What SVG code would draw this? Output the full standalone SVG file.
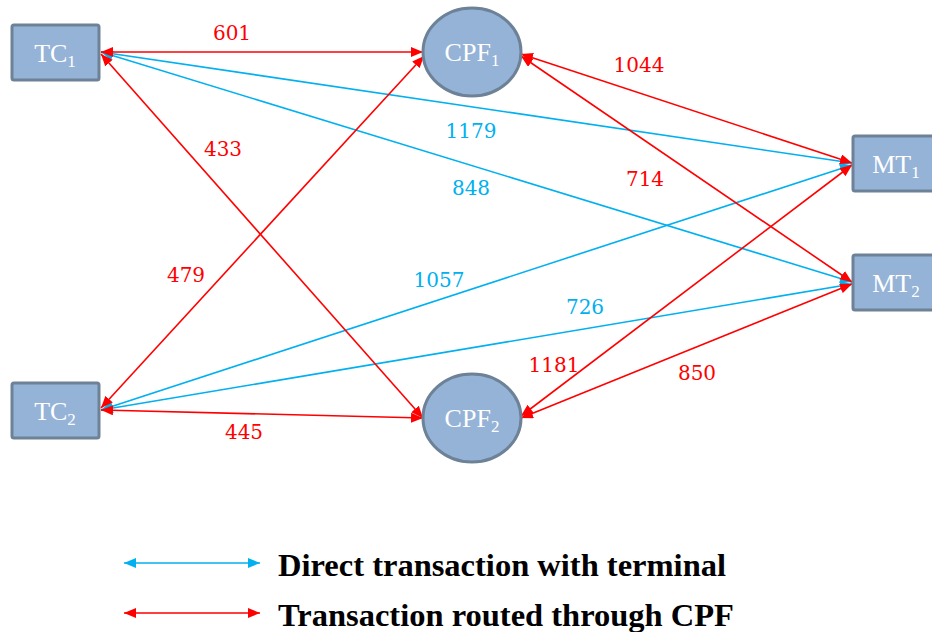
<svg xmlns="http://www.w3.org/2000/svg" width="932" height="632" viewBox="0 0 932 632">
<style>
.node{fill:#95B3D7;stroke:#6D8197;stroke-width:3}
.nl{font-family:"Liberation Serif",serif;font-size:26px;fill:#ffffff}
.sub{font-size:17px}
.r{stroke:#FF0000;stroke-width:1.6;fill:none}
.b{stroke:#00B0F0;stroke-width:1.6;fill:none}
.rl{font-family:"DejaVu Serif",serif;font-size:20px;fill:#FF0000;text-anchor:middle}
.bl{font-family:"DejaVu Serif",serif;font-size:20px;fill:#00B0F0;text-anchor:middle}
.leg{font-family:"Liberation Serif",serif;font-size:32.5px;font-weight:bold;fill:#000000}
</style>
<defs>
<marker id="ra" viewBox="0 0 12 10" refX="12" refY="5" markerWidth="12" markerHeight="10" markerUnits="userSpaceOnUse" orient="auto-start-reverse"><path d="M0,0 L12,5 L0,10 Z" fill="#FF0000"/></marker>
<marker id="ba" viewBox="0 0 12 10" refX="12" refY="5" markerWidth="12" markerHeight="10" markerUnits="userSpaceOnUse" orient="auto-start-reverse"><path d="M0,0 L12,5 L0,10 Z" fill="#00B0F0"/></marker>
</defs>
<g id="connectors">
<line class="b" x1="101" y1="52" x2="852" y2="163" marker-start="url(#ba)" marker-end="url(#ba)"/>
<line class="b" x1="101" y1="52" x2="852" y2="282" marker-start="url(#ba)" marker-end="url(#ba)"/>
<line class="b" x1="101" y1="410" x2="852" y2="165" marker-start="url(#ba)" marker-end="url(#ba)"/>
<line class="b" x1="101" y1="410" x2="852" y2="284" marker-start="url(#ba)" marker-end="url(#ba)"/>
<line class="r" x1="101" y1="52" x2="423" y2="52" marker-start="url(#ra)" marker-end="url(#ra)"/>
<line class="r" x1="101" y1="54" x2="423" y2="418" marker-start="url(#ra)" marker-end="url(#ra)"/>
<line class="r" x1="101" y1="408" x2="424" y2="56" marker-start="url(#ra)" marker-end="url(#ra)"/>
<line class="r" x1="101" y1="410" x2="423" y2="418" marker-start="url(#ra)" marker-end="url(#ra)"/>
<line class="r" x1="521" y1="54" x2="852" y2="163" marker-start="url(#ra)" marker-end="url(#ra)"/>
<line class="r" x1="521" y1="56" x2="852" y2="282" marker-start="url(#ra)" marker-end="url(#ra)"/>
<line class="r" x1="521" y1="416" x2="852" y2="165" marker-start="url(#ra)" marker-end="url(#ra)"/>
<line class="r" x1="521" y1="418" x2="852" y2="284" marker-start="url(#ra)" marker-end="url(#ra)"/>
<text class="rl" x="232" y="40">601</text>
<text class="rl" x="223" y="156">433</text>
<text class="rl" x="186" y="282">479</text>
<text class="rl" x="244" y="439">445</text>
<text class="rl" x="639" y="72">1044</text>
<text class="rl" x="645" y="186">714</text>
<text class="rl" x="554" y="372">1181</text>
<text class="rl" x="697" y="380">850</text>
<text class="bl" x="471" y="138">1179</text>
<text class="bl" x="471" y="195">848</text>
<text class="bl" x="439" y="287">1057</text>
<text class="bl" x="585" y="314">726</text>
</g>
<g id="TC1"><rect class="node" x="12" y="25" width="87" height="55" rx="2"/><text class="nl" x="55" y="62" text-anchor="middle">TC<tspan class="sub" dy="5">1</tspan></text></g>
<g id="TC2"><rect class="node" x="12" y="383" width="87" height="55" rx="2"/><text class="nl" x="55" y="420" text-anchor="middle">TC<tspan class="sub" dy="5">2</tspan></text></g>
<g id="CPF1"><ellipse class="node" cx="472" cy="52" rx="49" ry="44"/><text class="nl" x="472" y="61" text-anchor="middle">CPF<tspan class="sub" dy="5">1</tspan></text></g>
<g id="CPF2"><ellipse class="node" cx="472" cy="418" rx="49" ry="44"/><text class="nl" x="472" y="427" text-anchor="middle">CPF<tspan class="sub" dy="5">2</tspan></text></g>
<g id="MT1"><rect class="node" x="853" y="136" width="87" height="55" rx="2"/><text class="nl" x="896" y="173" text-anchor="middle">MT<tspan class="sub" dy="5">1</tspan></text></g>
<g id="MT2"><rect class="node" x="853" y="255" width="87" height="55" rx="2"/><text class="nl" x="896" y="292" text-anchor="middle">MT<tspan class="sub" dy="5">2</tspan></text></g>
<g id="legend">
<line class="b" x1="124" y1="563" x2="260" y2="563" marker-start="url(#ba)" marker-end="url(#ba)"/>
<line class="r" x1="124" y1="613" x2="260" y2="613" marker-start="url(#ra)" marker-end="url(#ra)"/>
<text class="leg" x="278" y="576">Direct transaction with terminal</text>
<text class="leg" x="278" y="626">Transaction routed through CPF</text>
</g>
</svg>
